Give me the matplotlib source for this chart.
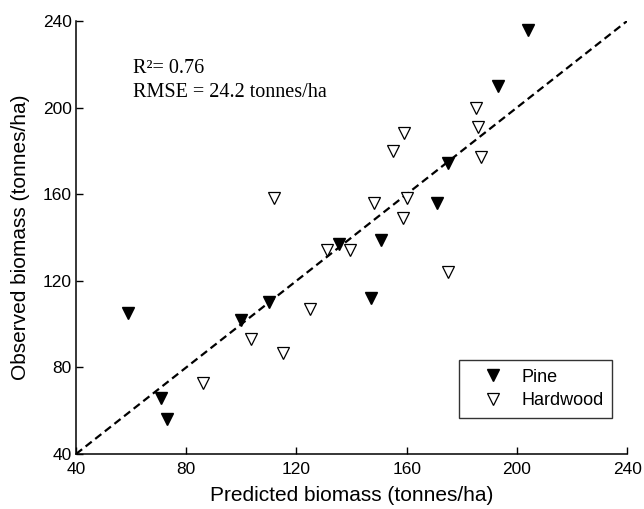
import matplotlib
matplotlib.use("Agg")
import matplotlib.pyplot as plt

# datos
pine_pred = [59, 71, 73, 100, 110, 135.5, 147, 150.5, 171, 175, 193, 204]
pine_obs = [105, 66, 56, 102, 110, 137, 112, 139, 156, 174.5, 210, 236]

hard_pred = [86, 103.5, 115, 112, 125, 131, 139.5, 148, 155, 159, 158.5, 160, 175, 185, 186, 187]
hard_obs = [73, 93, 86.5, 158, 107, 134, 134, 156, 180, 188, 149, 158, 124, 200, 191, 177]

linea = [40, 240]
ticks = [40, 80, 120, 160, 200, 240]

plt.rcParams["font.family"] = ["Liberation Sans", "DejaVu Sans"]

fig = plt.figure(figsize=(6.44, 5.09), dpi=100)
ax = fig.add_axes([0.118, 0.108, 0.856, 0.851])

ax.plot(linea, linea, color="black", linestyle=(0, (3.5, 2)), linewidth=1.6, zorder=1)
ax.plot(pine_pred, pine_obs, linestyle="none", marker="v", markersize=8.7,
        markerfacecolor="black", markeredgecolor="black", label="Pine", zorder=3)
ax.plot(hard_pred, hard_obs, linestyle="none", marker="v", markersize=8.7,
        markerfacecolor="white", markeredgecolor="black", markeredgewidth=0.9,
        label="Hardwood", zorder=2)

ax.set_xlim(40, 240)
ax.set_ylim(40, 240)
ax.set_xticks(ticks)
ax.set_yticks(ticks)
ax.tick_params(direction="in", length=5, width=1, labelsize=12.5)
ax.tick_params(axis="x", pad=6)
ax.tick_params(axis="y", pad=3)
ax.spines["top"].set_visible(False)
ax.spines["right"].set_visible(False)
ax.spines["left"].set_linewidth(1.1)
ax.spines["bottom"].set_linewidth(1.1)

ax.set_xlabel("Predicted biomass (tonnes/ha)", fontsize=15, labelpad=6)
ax.set_ylabel("Observed biomass (tonnes/ha)", fontsize=15, labelpad=9)

serif = ["Liberation Serif", "DejaVu Serif"]
ax.text(0.103, 0.879, "R\u00b2= 0.76", transform=ax.transAxes, fontsize=14.5,
        family=serif, va="baseline")
ax.text(0.103, 0.825, "RMSE = 24.2 tonnes/ha", transform=ax.transAxes, fontsize=14.5,
        family=serif, va="baseline")

leg = ax.legend(loc="lower right", bbox_to_anchor=(0.973, 0.083), fontsize=13,
                frameon=True, fancybox=False, borderpad=0.5, handlelength=2.8,
                handletextpad=0.15, borderaxespad=0, labelspacing=0.35)
leg.get_frame().set_edgecolor("black")
leg.get_frame().set_linewidth(1)

fig.savefig("out.png", dpi=100)
